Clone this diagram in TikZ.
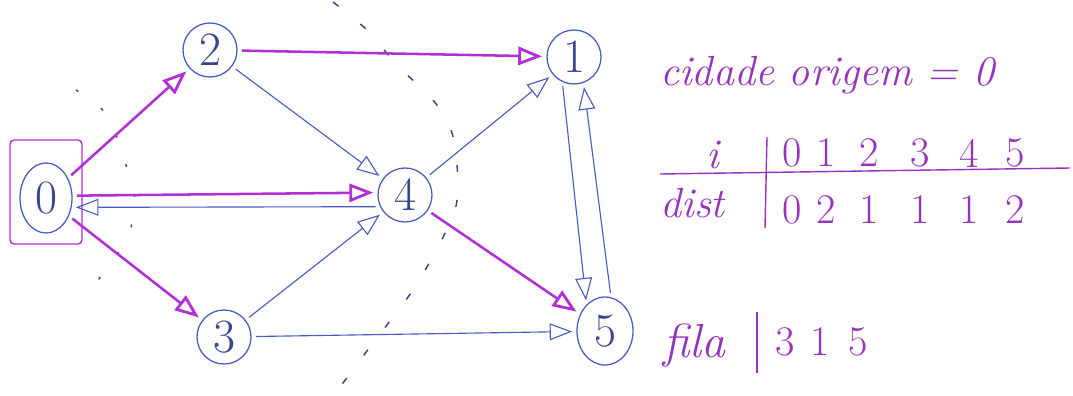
\documentclass[tikz,border=0pt]{standalone}
\usepackage{xcolor}
\usepackage{tikz}
\usetikzlibrary{arrows.meta,calc,fit,positioning,shapes.geometric}
\definecolor{penblue}{RGB}{72,92,192}
\definecolor{penmag}{RGB}{176,48,214}
\definecolor{inkpur}{RGB}{150,50,190}

\begin{document}
\begin{tikzpicture}[
  x=0.025cm,y=-0.025cm,
  city/.style={draw=penblue,circle,line width=0.9pt,minimum size=1.35cm,inner sep=0pt,font=\fontsize{34}{34}\selectfont,text=penblue!75!black},
  oval/.style={city,ellipse,minimum width=1.3cm,minimum height=1.75cm},
  seen/.style={-{Triangle[open,length=16pt,width=12pt]},draw=penblue,line width=0.8pt,shorten >=3pt,shorten <=3pt},
  visit/.style={-{Triangle[open,length=17pt,width=13pt,line width=2pt]},draw=penmag,line width=1.8pt,shorten >=3pt,shorten <=3pt},
  frontier/.style={draw=penblue!70!black,line width=1pt,dash pattern=on 5pt off 20pt},
  ink/.style={text=inkpur,font=\fontsize{30}{30}\selectfont,inner sep=0pt},
  tabline/.style={draw=inkpur,line width=1pt}
]
\useasboundingbox (0,0) rectangle (1073,395);
% graph
\node[oval] (c0) at (46,198) {0};
\node[city] (c2) at (210,50) {2};
\node[city] (c1) at (574,57) {1};
\node[city] (c4) at (405,195) {4};
\node[city] (c3) at (224,337) {3};
\node[oval,minimum width=1.4cm,minimum height=1.7cm] (c5) at (605,331) {5};
\node[draw=penmag,line width=1pt,rounded corners=3pt,minimum width=1.8cm,minimum height=2.6cm] (startbox) at (46,192) {};
\draw[frontier,dash pattern=on 2pt off 20pt] plot[smooth] coordinates {(76,90) (107,115) (125,162) (135,200) (128,237) (108,267) (90,290)};
\draw[frontier] plot[smooth] coordinates {(333,2) (367,30) (397,65) (433,100) (452,133) (458,180) (455,210) (440,243) (413,290) (373,343) (340,387)};
\draw[seen] (c2) -- (c4);
\draw[seen] (c4.205) -- (c0.-20);
\draw[seen] (c3) -- (c4);
\draw[seen] (c4) -- (c1);
\draw[seen] (c1.-115) -- (c5.125);
\draw[seen] (c5.80) -- (c1.-70);
\draw[seen] (c3) -- (c5);
\draw[visit] (c0) -- (c2);
\draw[visit] (c2) -- (c1);
\draw[visit] (c0.5) -- (c4.175);
\draw[visit] (c0) -- (c3);
\draw[visit] (c4) -- (c5);
% table
\node[ink,anchor=base west] (origem) at (660,85) {\itshape cidade origem = 0};
\node[ink] (ihead) at (713,155) {\itshape i};
\foreach \v/\x in {0/792,1/826,2/869,3/920,4/969,5/1015}
  \node[ink] (col\v) at (\x,153) {\v};
\node[ink,anchor=base west] (dhead) at (660,217) {\itshape dist};
\foreach \d/\x [count=\k from 0] in {0/792,2/826,1/869,1/920,1/969,2/1015}
  \node[ink] (dist\k) at (\x,210) {\d};
\draw[tabline] (660,174) -- (1070,168);
\draw[tabline] (767,137) -- (765,228);
% queue
\node[ink,anchor=base west,font=\fontsize{34}{34}\selectfont] (fila) at (663,357) {\itshape fila};
\draw[tabline] (757,312) -- (757,373);
\foreach \q/\x [count=\k] in {3/785,1/820,5/858}
  \node[ink] (queue\k) at (\x,342) {\q};
\end{tikzpicture}
\end{document}
